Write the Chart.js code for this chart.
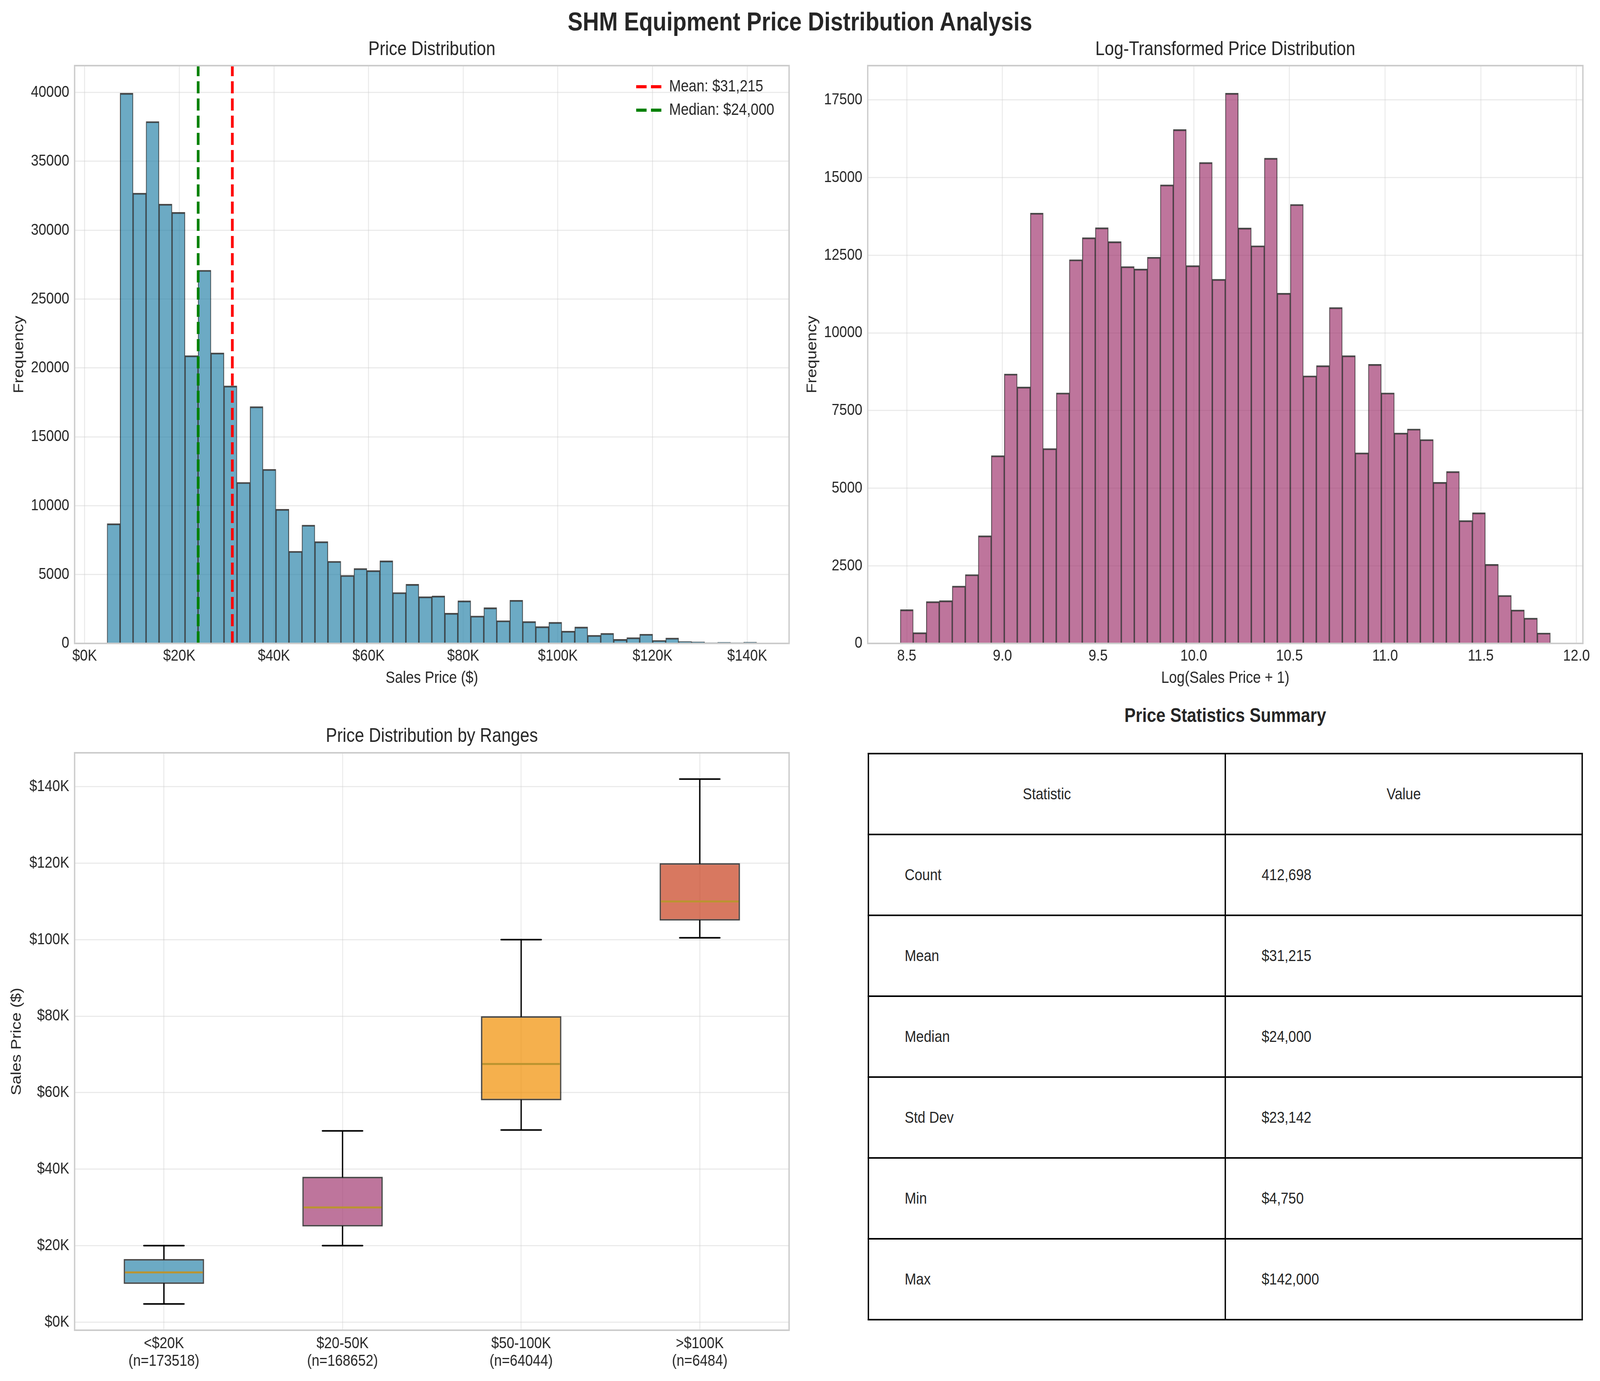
<!DOCTYPE html>
<html>
<head>
<meta charset="utf-8">
<script src="https://cdn.jsdelivr.net/npm/chart.js@4.4.1/dist/chart.umd.min.js"></script>
<style>
  html, body { margin: 0; padding: 0; background: #ffffff; overflow: hidden; }
  #page { position: absolute; left: 0; top: 0; width: 4761px; height: 3535px; transform-origin: 0 0;
          font-family: 'Liberation Sans', Arial, sans-serif; color: #262626; background: #ffffff; }
  #page canvas { position: absolute; }
  #mainTitle { position: absolute; left: 0; width: 4761px; top: 21px; height: 67px; line-height: 67px;
               text-align: center; font-weight: bold; font-size: 67px; white-space: nowrap; }
  #tableTitle { position: absolute; left: 2582px; width: 2128px; top: 1801px; height: 60px; line-height: 60px;
                text-align: center; font-weight: bold; font-size: 50px; white-space: nowrap; }
  #stats { position: absolute; left: 2582px; top: 1927px; width: 2128px; border-collapse: collapse;
           table-layout: fixed; font-size: 41px; color: #262626; }
  #stats td { border: 4px solid #000000; height: 203px; padding: 0; vertical-align: middle; white-space: nowrap; }
  #stats td.hdr { text-align: center; }
  #stats td.body { text-align: left; padding-left: 106px; }
</style>
</head>
<body>
<div id="page">
  <div id="mainTitle">SHM Equipment Price Distribution Analysis</div>
  <canvas id="histPrice" width="2400" height="1780" style="left:0px;top:0px;width:2400px;height:1780px;"></canvas>
  <canvas id="histLog" width="2381" height="1780" style="left:2380px;top:0px;width:2381px;height:1780px;"></canvas>
  <canvas id="boxRanges" width="2400" height="1755" style="left:0px;top:1780px;width:2400px;height:1755px;"></canvas>
  <div id="tableTitle">Price Statistics Summary</div>
  <table id="stats"></table>
</div>

<script>
// ---------------- DATA ----------------
const PRICE_MIN = 4750;
const PRICE_MAX = 142000;
const MEAN_PRICE = 31215;
const MEDIAN_PRICE = 24000;

// 50-bin histogram of sales price (frequency per bin)
const PRICE_COUNTS = [8700, 39950, 32700, 37900, 31900, 31300, 20900, 27100, 21100, 18700,
                      11700, 17200, 12650, 9750, 6700, 8600, 7400, 5970, 4950, 5450,
                      5300, 6000, 3700, 4300, 3400, 3450, 2200, 3100, 2000, 2600,
                      1660, 3140, 1600, 1230, 1540, 900, 1200, 600, 740, 300,
                      430, 680, 220, 400, 150, 120, 60, 90, 60, 100];

// 50-bin histogram of log(price + 1)
const LOG_MIN = Math.log(PRICE_MIN + 1);
const LOG_MAX = Math.log(PRICE_MAX + 1);
const LOG_COUNTS = [1090, 350, 1350, 1380, 1850, 2220, 3470, 6050, 8680, 8260,
                    13860, 6280, 8070, 12360, 13070, 13390, 12940, 12140, 12060, 12440,
                    14770, 16550, 12170, 15490, 11730, 17720, 13380, 12810, 15630, 11280,
                    14140, 8620, 8950, 10820, 9270, 6140, 8990, 8070, 6780, 6910,
                    6570, 5190, 5540, 3960, 4210, 2550, 1550, 1080, 820, 340];

// Box plot by price range
const RANGE_LABELS = ['<$20K', '$20-50K', '$50-100K', '>$100K'];
const RANGE_COUNTS = [173518, 168652, 64044, 6484];
const BOX_LOW  = [4750, 20000, 50250, 100500];
const BOX_Q1   = [10000, 25000, 58000, 105000];
const BOX_MED  = [13000, 30000, 67500, 110000];
const BOX_Q3   = [16500, 38000, 80000, 120000];
const BOX_HIGH = [20000, 50000, 100000, 142000];

// Summary table
const STAT_NAMES  = ['Count', 'Mean', 'Median', 'Std Dev', 'Min', 'Max'];
const STAT_VALUES = ['412,698', '$31,215', '$24,000', '$23,142', '$4,750', '$142,000'];

// Tick values
const PRICE_TICKS    = [0, 20000, 40000, 60000, 80000, 100000, 120000, 140000];
const FREQ_TICKS     = [0, 5000, 10000, 15000, 20000, 25000, 30000, 35000, 40000];
const LOG_TICKS      = [8.5, 9.0, 9.5, 10.0, 10.5, 11.0, 11.5, 12.0];
const LOG_FREQ_TICKS = [0, 2500, 5000, 7500, 10000, 12500, 15000, 17500];

// ---------------- PAGE SCALE (fit the 4761x3535 design into the actual viewport) ----------------
const PAGE_W = 4761, PAGE_H = 3535;
const VW = window.innerWidth || PAGE_W, VH = window.innerHeight || PAGE_H;
const SX = VW / PAGE_W, SY = VH / PAGE_H;
document.getElementById('page').style.transform = 'scale(' + SX + ',' + SY + ')';
[document.documentElement, document.body].forEach(el => {
  el.style.width = VW + 'px'; el.style.height = VH + 'px';
});

// ---------------- STYLE / HELPERS ----------------
Chart.defaults.font.family = "'Liberation Sans', Arial, sans-serif";
Chart.defaults.color = '#262626';

const TXT = '#262626';
const GRID = { color: 'rgba(204,204,204,0.40)', lineWidth: 3, drawTicks: false };
const fmtK = v => '$' + Math.round(v / 1000) + 'K';
const margin = (lo, hi) => [lo - (hi - lo) * 0.05, hi + (hi - lo) * 0.05];
const fixTicks = arr => (scale) => { scale.ticks = arr.map(v => ({ value: v })); };

const framePlugin = {
  id: 'frame',
  afterDatasetsDraw(chart) {
    const a = chart.chartArea, c = chart.ctx;
    c.save();
    c.strokeStyle = '#CCCCCC';
    c.lineWidth = 4;
    c.strokeRect(a.left, a.top, a.right - a.left, a.bottom - a.top);
    c.restore();
  }
};

function binCenters(lo, hi, n) {
  const w = (hi - lo) / n;
  const out = [];
  for (let i = 0; i < n; i++) out.push(lo + w * (i + 0.5));
  return out;
}

const BASE = { responsive: false, animation: false, devicePixelRatio: 1, events: [] };

// ---------------- PANEL 1: price histogram ----------------
(function () {
  const [xmin, xmax] = margin(PRICE_MIN, PRICE_MAX);
  const ymax = Math.max(...PRICE_COUNTS) * 1.05;
  const centers = binCenters(PRICE_MIN, PRICE_MAX, PRICE_COUNTS.length);

  const legendPlace = {
    id: 'legendPlace',
    afterLayout(chart) {
      const lg = chart.legend;
      if (!lg) return;
      const L = 1875, T = 183;
      lg.left = L; lg.right = L + lg.width;
      lg.top = T; lg.bottom = T + 400;
    }
  };

  new Chart(document.getElementById('histPrice'), {
    type: 'bar',
    data: {
      datasets: [
        { type: 'line', label: 'Mean: $' + MEAN_PRICE.toLocaleString('en-US'),
          data: [{ x: MEAN_PRICE, y: 0 }, { x: MEAN_PRICE, y: ymax }],
          borderColor: '#FF0000', borderWidth: 8, borderDash: [31, 13], pointRadius: 0, fill: false, order: 1 },
        { type: 'line', label: 'Median: $' + MEDIAN_PRICE.toLocaleString('en-US'),
          data: [{ x: MEDIAN_PRICE, y: 0 }, { x: MEDIAN_PRICE, y: ymax }],
          borderColor: '#008000', borderWidth: 8, borderDash: [31, 13], pointRadius: 0, fill: false, order: 1 },
        { type: 'bar', label: 'Sales Price',
          data: PRICE_COUNTS.map((v, i) => ({ x: centers[i], y: v })),
          backgroundColor: 'rgba(46,134,171,0.7)', borderColor: 'rgba(0,0,0,0.72)',
          borderWidth: { top: 4, left: 2, right: 2, bottom: 0 }, borderSkipped: false,
          barPercentage: 1, categoryPercentage: 1, order: 2 }
      ]
    },
    options: Object.assign({}, BASE, {
      layout: { padding: { left: 0, right: 52, top: 0, bottom: 0 } },
      plugins: {
        title: { display: true, fullSize: false, text: 'Price Distribution', color: TXT,
                 font: { size: 50, weight: 'normal' }, padding: { top: 97, bottom: 11 } },
        legend: {
          display: true, position: 'chartArea', align: 'start',
          labels: {
            usePointStyle: true, pointStyleWidth: 77, padding: 18, color: TXT, font: { size: 42 },
            generateLabels: ch => ch.data.datasets.map((d, i) => d.type === 'line' ? {
              text: d.label, fillStyle: d.borderColor, strokeStyle: d.borderColor, lineWidth: d.borderWidth,
              lineDash: d.borderDash, pointStyle: 'line', hidden: false, datasetIndex: i, fontColor: TXT
            } : null).filter(Boolean)
          }
        },
        tooltip: { enabled: false }
      },
      scales: {
        x: {
          type: 'linear', min: xmin, max: xmax, offset: false,
          grid: Object.assign({}, GRID, { offset: false }), border: { display: false },
          afterBuildTicks: fixTicks(PRICE_TICKS),
          ticks: { font: { size: 41 }, color: TXT, padding: 8, maxRotation: 0, autoSkip: false, callback: v => fmtK(v) },
          title: { display: true, text: 'Sales Price ($)', color: TXT, font: { size: 42 }, padding: { top: 0, bottom: 18 } },
          afterFit: s => { s.height = 133; }
        },
        y: {
          min: 0, max: ymax,
          grid: GRID, border: { display: false },
          afterBuildTicks: fixTicks(FREQ_TICKS),
          ticks: { font: { size: 41 }, color: TXT, padding: 16, autoSkip: false, callback: v => String(v) },
          title: { display: true, text: 'Frequency', color: TXT, font: { size: 42 }, padding: { top: 32, bottom: 0 } },
          afterFit: s => { s.width = 222; }
        }
      }
    }),
    plugins: [framePlugin, legendPlace]
  });
})();

// ---------------- PANEL 2: log histogram ----------------
(function () {
  const [xmin, xmax] = margin(LOG_MIN, LOG_MAX);
  const ymax = Math.max(...LOG_COUNTS) * 1.05;
  const centers = binCenters(LOG_MIN, LOG_MAX, LOG_COUNTS.length);

  new Chart(document.getElementById('histLog'), {
    type: 'bar',
    data: {
      datasets: [
        { label: 'Log(Sales Price + 1)',
          data: LOG_COUNTS.map((v, i) => ({ x: centers[i], y: v })),
          backgroundColor: 'rgba(162,59,114,0.7)', borderColor: 'rgba(0,0,0,0.72)',
          borderWidth: { top: 4, left: 2, right: 2, bottom: 0 }, borderSkipped: false,
          barPercentage: 1, categoryPercentage: 1 }
      ]
    },
    options: Object.assign({}, BASE, {
      layout: { padding: { left: 0, right: 51, top: 0, bottom: 0 } },
      plugins: {
        title: { display: true, fullSize: false, text: 'Log-Transformed Price Distribution', color: TXT,
                 font: { size: 50, weight: 'normal' }, padding: { top: 97, bottom: 11 } },
        legend: { display: false },
        tooltip: { enabled: false }
      },
      scales: {
        x: {
          type: 'linear', min: xmin, max: xmax, offset: false,
          grid: Object.assign({}, GRID, { offset: false }), border: { display: false },
          afterBuildTicks: fixTicks(LOG_TICKS),
          ticks: { font: { size: 41 }, color: TXT, padding: 8, maxRotation: 0, autoSkip: false,
                   callback: v => Number(v).toFixed(1) },
          title: { display: true, text: 'Log(Sales Price + 1)', color: TXT, font: { size: 42 }, padding: { top: 0, bottom: 18 } },
          afterFit: s => { s.height = 133; }
        },
        y: {
          min: 0, max: ymax,
          grid: GRID, border: { display: false },
          afterBuildTicks: fixTicks(LOG_FREQ_TICKS),
          ticks: { font: { size: 41 }, color: TXT, padding: 16, autoSkip: false, callback: v => String(v) },
          title: { display: true, text: 'Frequency', color: TXT, font: { size: 42 }, padding: { top: 12, bottom: 0 } },
          afterFit: s => { s.width = 202; }
        }
      }
    }),
    plugins: [framePlugin]
  });
})();

// ---------------- PANEL 3: box plot by range ----------------
(function () {
  const [ymin, ymax] = margin(Math.min(...BOX_LOW), Math.max(...BOX_HIGH));

  const whiskerPlugin = {
    id: 'whiskers',
    afterDatasetsDraw(chart) {
      const c = chart.ctx, xs = chart.scales.x, ys = chart.scales.y;
      const meta = chart.getDatasetMeta(0);
      const catW = xs.getPixelForValue(1) - xs.getPixelForValue(0);
      const capHalf = catW * 0.225 / 2;
      c.save();
      for (let i = 0; i < BOX_Q1.length; i++) {
        const x = xs.getPixelForValue(i);
        const yLo = ys.getPixelForValue(BOX_LOW[i]);
        const yQ1 = ys.getPixelForValue(BOX_Q1[i]);
        const yQ3 = ys.getPixelForValue(BOX_Q3[i]);
        const yHi = ys.getPixelForValue(BOX_HIGH[i]);
        const yMd = ys.getPixelForValue(BOX_MED[i]);
        c.lineCap = 'round';
        c.strokeStyle = '#000000';
        c.lineWidth = 4;
        c.beginPath();
        c.moveTo(x, yQ1); c.lineTo(x, yLo);
        c.moveTo(x, yQ3); c.lineTo(x, yHi);
        c.moveTo(x - capHalf, yLo); c.lineTo(x + capHalf, yLo);
        c.moveTo(x - capHalf, yHi); c.lineTo(x + capHalf, yHi);
        c.stroke();
        const el = meta.data[i];
        const half = el.width / 2;
        c.lineCap = 'butt';
        c.strokeStyle = '#BB9430';
        c.lineWidth = 5;
        c.beginPath();
        c.moveTo(el.x - half + 4, yMd); c.lineTo(el.x + half - 4, yMd);
        c.stroke();
      }
      c.restore();
    }
  };

  new Chart(document.getElementById('boxRanges'), {
    type: 'bar',
    data: {
      labels: RANGE_LABELS.map((l, i) => [l, '(n=' + RANGE_COUNTS[i] + ')']),
      datasets: [
        { label: 'Interquartile range',
          data: BOX_Q1.map((q, i) => [q, BOX_Q3[i]]),
          backgroundColor: ['rgba(46,134,171,0.7)', 'rgba(162,59,114,0.7)', 'rgba(241,143,1,0.7)', 'rgba(199,62,29,0.7)'],
          borderColor: 'rgba(0,0,0,0.72)', borderWidth: 4, borderSkipped: false,
          barPercentage: 0.45, categoryPercentage: 1 }
      ]
    },
    options: Object.assign({}, BASE, {
      layout: { padding: { left: 0, right: 52, top: 0, bottom: 0 } },
      plugins: {
        title: { display: true, fullSize: false, text: 'Price Distribution by Ranges', color: TXT,
                 font: { size: 50, weight: 'normal' }, padding: { top: 75, bottom: 12 } },
        legend: { display: false },
        tooltip: { enabled: false }
      },
      scales: {
        x: {
          type: 'category', offset: true,
          grid: Object.assign({}, GRID, { offset: false }), border: { display: false },
          ticks: { font: { size: 41, lineHeight: 1.1 }, color: TXT, padding: 12, maxRotation: 0, autoSkip: false },
          afterFit: s => { s.height = 130; }
        },
        y: {
          min: ymin, max: ymax,
          grid: GRID, border: { display: false },
          afterBuildTicks: fixTicks(PRICE_TICKS),
          ticks: { font: { size: 41 }, color: TXT, padding: 16, autoSkip: false, callback: v => fmtK(v) },
          title: { display: true, text: 'Sales Price ($)', color: TXT, font: { size: 42 }, padding: { top: 25, bottom: 0 } },
          afterFit: s => { s.width = 222; }
        }
      }
    }),
    plugins: [framePlugin, whiskerPlugin]
  });
})();

// ---------------- PANEL 4: statistics table ----------------
(function () {
  const tbl = document.getElementById('stats');
  const head = document.createElement('tr');
  ['Statistic', 'Value'].forEach(t => {
    const td = document.createElement('td');
    td.className = 'hdr';
    td.textContent = t;
    head.appendChild(td);
  });
  tbl.appendChild(head);
  STAT_NAMES.forEach((name, i) => {
    const tr = document.createElement('tr');
    [name, STAT_VALUES[i]].forEach(t => {
      const td = document.createElement('td');
      td.className = 'body';
      td.textContent = t;
      tr.appendChild(td);
    });
    tbl.appendChild(tr);
  });
})();
</script>
</body>
</html>
